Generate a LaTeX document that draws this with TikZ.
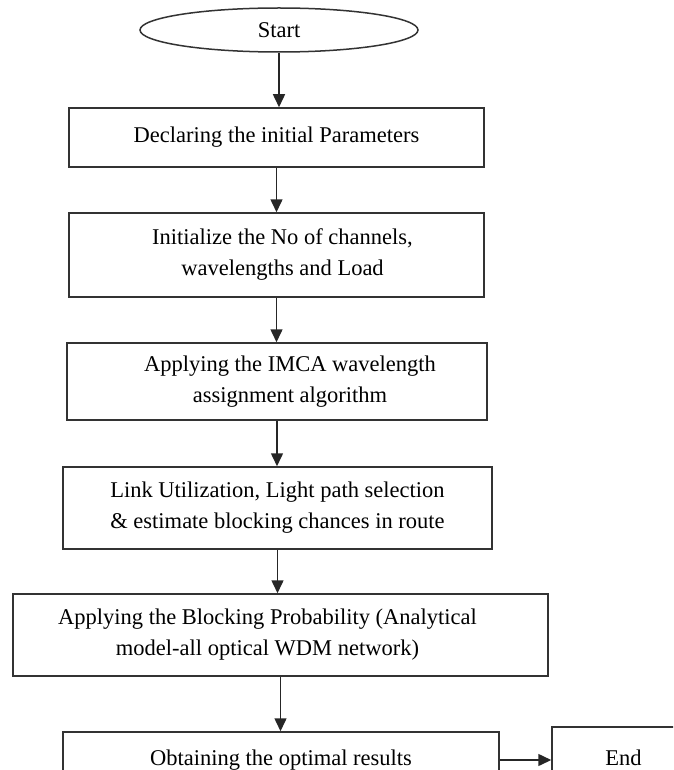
\documentclass[tikz,border=0pt]{standalone}
\usepackage{fontspec}
\setmainfont{Liberation Serif}
\usetikzlibrary{arrows.meta,shapes.geometric}
\tikzset{
  box/.style={draw=black!80, line width=1.5pt, align=center, inner sep=0pt,
    font=\fontsize{22.5}{31}\selectfont},
  flow/.style={draw=black!85, line width=1.5pt, -{Triangle[length=13pt,width=12pt]}},
}
\begin{document}
\begin{tikzpicture}[x=1pt,y=-1pt]
	\useasboundingbox (0,0) rectangle (673,770);
	\clip (0,0) rectangle (673,770);
	\node[box, ellipse, minimum width=278pt, minimum height=44pt] (start) at (279,30) {Start};
	\node[box, minimum width=415pt, minimum height=59pt] (decl) at (276.5,137.5) {Declaring the initial Parameters};
	\node[box, minimum width=415pt, minimum height=84pt] (init) at (276.5,255) {\hspace*{12pt}Initialize the No of channels,\\ \hspace*{12pt}wavelengths and Load};
	\node[box, minimum width=420pt, minimum height=77pt] (imca) at (277,381.5) {\hspace*{26pt}Applying the IMCA wavelength\\ \hspace*{26pt}assignment algorithm};
	\node[box, minimum width=429pt, minimum height=82pt] (link) at (277.5,508) {Link Utilization, Light path selection\\ \& estimate blocking chances in route};
	\node[box, minimum width=535pt, minimum height=82pt] (block) at (280.5,635) {Applying the Blocking Probability (Analytical\hspace*{26pt}\\ model-all optical WDM network)\hspace*{26pt}};
	\node[box, minimum width=436pt, minimum height=56pt] (result) at (281,760) {Obtaining the optimal results};
	\node[box, minimum width=143pt, minimum height=62pt] (end) at (623.5,758) {End};
	% connectors
	\draw[flow] (start.south) -- (start.south |- decl.north);
	\draw[flow] (decl.south) -- (decl.south |- init.north);
	\draw[flow] (init.south) -- (init.south |- imca.north);
	\draw[flow] (imca.south) -- (imca.south |- link.north);
	\draw[flow] (link.south) -- (link.south |- block.north);
	\draw[flow] (block.south) -- (block.south |- result.north);
	\draw[flow] (result.east) -- (result.east -| end.west);
\end{tikzpicture}
\end{document}
